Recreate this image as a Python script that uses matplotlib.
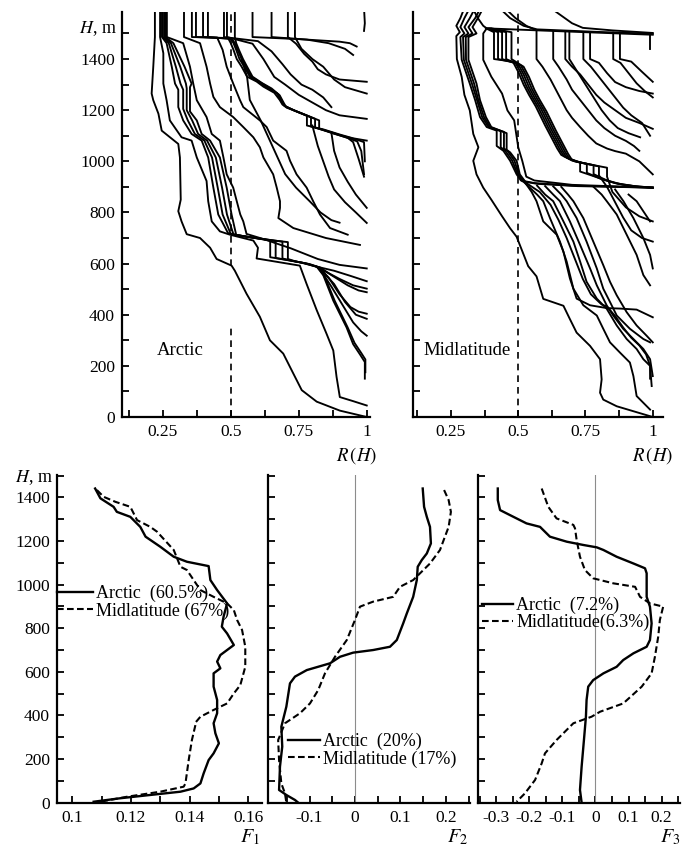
import matplotlib
matplotlib.use("Agg")
import matplotlib.pyplot as plt
import matplotlib.transforms as mtransforms
from matplotlib.ticker import FixedLocator, FixedFormatter, MultipleLocator
from matplotlib.lines import Line2D

plt.rcParams['font.family'] = 'Liberation Serif'
plt.rcParams['mathtext.fontset'] = 'stix'

# ---------------- top panels: R(H) profiles, (R, H) points ----------------
# Arctic
arc_A1 = [(0.221, 1600), (0.221, 1486), (0.215, 1370), (0.209, 1265), (0.215, 1239), (0.234, 1186),
          (0.246, 1120), (0.307, 1068), (0.313, 1015), (0.316, 850), (0.307, 805), (0.319, 765),
          (0.338, 715), (0.387, 700), (0.424, 662), (0.448, 618), (0.503, 592), (0.515, 572),
          (0.558, 482), (0.607, 392), (0.644, 300), (0.693, 248), (0.73, 170), (0.761, 105),
          (0.816, 60), (0.901, 25), (1.0, 0)]
arc_A2 = [(0.24, 1600), (0.24, 1486), (0.252, 1423), (0.252, 1304), (0.264, 1239), (0.276, 1160),
          (0.319, 1094), (0.356, 1081), (0.375, 1015), (0.411, 923), (0.417, 844), (0.43, 765),
          (0.46, 726), (0.497, 713), (0.583, 690), (0.60, 662), (0.595, 620), (0.754, 592),
          (0.779, 520), (0.816, 418), (0.852, 326), (0.877, 260), (0.889, 157), (0.901, 78),
          (0.95, 62), (1.0, 45)]
arc_B1a = [(0.247, 1600), (0.247, 1486), (0.264, 1462), (0.283, 1370), (0.295, 1304), (0.307, 1280),
           (0.307, 1212), (0.325, 1160), (0.356, 1107), (0.393, 1081), (0.417, 1015), (0.436, 897),
           (0.454, 792), (0.49, 719), (0.52, 712), (0.60, 698), (0.645, 690), (0.645, 625),
           (0.70, 615), (0.754, 605), (0.816, 588), (0.84, 555), (0.877, 455), (0.926, 350),
           (0.95, 285), (0.975, 245), (0.993, 215), (0.993, 150)]
arc_B1b = [(0.25, 1600), (0.25, 1486), (0.272, 1462), (0.298, 1370), (0.315, 1304), (0.325, 1280),
           (0.325, 1205), (0.342, 1160), (0.368, 1107), (0.403, 1081), (0.431, 1015), (0.452, 897),
           (0.47, 792), (0.50, 716), (0.54, 708), (0.62, 695), (0.665, 688), (0.665, 622),
           (0.72, 612), (0.77, 602), (0.82, 586), (0.845, 550), (0.882, 455), (0.93, 350),
           (0.955, 290), (0.98, 250), (0.995, 225), (0.995, 175)]
arc_B1c = [(0.255, 1600), (0.255, 1486), (0.28, 1462), (0.314, 1370), (0.335, 1304), (0.338, 1285),
           (0.338, 1200), (0.358, 1160), (0.38, 1107), (0.413, 1081), (0.445, 1015), (0.468, 897),
           (0.486, 792), (0.51, 714), (0.56, 705), (0.64, 693), (0.69, 686), (0.69, 620),
           (0.73, 610), (0.78, 600), (0.825, 585), (0.86, 545), (0.90, 480), (0.94, 430),
           (0.97, 412), (1.0, 404)]
arc_B1d = [(0.26, 1600), (0.26, 1486), (0.289, 1462), (0.33, 1370), (0.356, 1304), (0.35, 1290),
           (0.35, 1195), (0.375, 1160), (0.393, 1107), (0.424, 1081), (0.46, 1015), (0.485, 897),
           (0.503, 792), (0.52, 712), (0.58, 702), (0.66, 690), (0.71, 684), (0.71, 618),
           (0.74, 608), (0.79, 598), (0.83, 584), (0.87, 555), (0.93, 515), (0.97, 495), (1.0, 488)]
arc_F1 = [(0.816, 588), (0.88, 572), (0.94, 552), (1.0, 531)]
arc_F2 = [(0.83, 575), (0.87, 510), (0.91, 440), (0.95, 370), (0.98, 335), (1.0, 318)]
arc_F3 = [(0.83, 578), (0.88, 520), (0.92, 450), (0.96, 400), (1.0, 384)]
arc_F4 = [(0.82, 585), (0.90, 540), (0.95, 515), (1.0, 502)]
arc_m1 = [(0.265, 1600), (0.265, 1486), (0.325, 1462), (0.35, 1370), (0.362, 1304), (0.375, 1239),
          (0.411, 1173), (0.43, 1107), (0.46, 1081), (0.473, 1015), (0.485, 949), (0.509, 897),
          (0.522, 844), (0.535, 792), (0.546, 765), (0.558, 716), (0.62, 696), (0.72, 660),
          (0.82, 618), (0.90, 595), (1.0, 581)]
arc_m2 = [(0.328, 1600), (0.328, 1486), (0.387, 1462), (0.411, 1370), (0.424, 1304), (0.436, 1252),
          (0.46, 1212), (0.509, 1173), (0.546, 1134), (0.583, 1094), (0.607, 1055), (0.62, 1015),
          (0.656, 949), (0.669, 897), (0.681, 844), (0.681, 818), (0.675, 778), (0.73, 739),
          (0.85, 700), (0.975, 673)]
arc_m3 = [(0.357, 1600), (0.357, 1486), (0.45, 1484), (0.47, 1436), (0.485, 1370), (0.509, 1304),
          (0.534, 1239), (0.546, 1212), (0.607, 1160), (0.632, 1134), (0.656, 1081), (0.705, 1041),
          (0.718, 1002), (0.742, 949), (0.779, 897), (0.803, 844), (0.828, 792), (0.865, 739),
          (0.93, 713)]
arc_m4 = [(0.54, 1400), (0.56, 1330), (0.57, 1240), (0.61, 1160), (0.64, 1090), (0.67, 1020),
          (0.70, 950), (0.74, 897), (0.79, 844), (0.83, 800), (0.87, 770), (0.90, 760)]
arc_u1 = [(0.58, 1600), (0.58, 1486), (0.75, 1478), (0.90, 1468), (0.938, 1462), (0.963, 1449)]
arc_u2 = [(0.65, 1600), (0.65, 1486), (0.78, 1476), (0.86, 1462), (0.92, 1440), (0.95, 1416)]
arc_u3 = [(0.71, 1600), (0.71, 1486), (0.74, 1460), (0.77, 1420), (0.80, 1390), (0.82, 1360),
          (0.85, 1340), (0.90, 1320), (1.0, 1311)]
arc_u4 = [(0.736, 1600), (0.736, 1486), (0.76, 1440), (0.80, 1400), (0.84, 1370), (0.88, 1320),
          (0.92, 1290), (1.0, 1265)]
arc_u5 = [(0.475, 1600), (0.475, 1486), (0.60, 1470), (0.65, 1430), (0.69, 1380), (0.72, 1340),
          (0.76, 1300), (0.80, 1280), (0.84, 1250), (0.87, 1212)]
arc_u6 = [(0.486, 1600), (0.486, 1486), (0.58, 1460), (0.62, 1400), (0.66, 1330), (0.70, 1300),
          (0.75, 1260), (0.80, 1230), (0.85, 1200), (0.90, 1180), (1.0, 1166)]
arc_u7 = [(0.99, 1600), (0.993, 1540), (0.99, 1510)]
arc_B2a = [(0.372, 1600), (0.372, 1486), (0.49, 1482), (0.50, 1462), (0.51, 1436), (0.522, 1400),
           (0.54, 1370), (0.56, 1331), (0.595, 1312), (0.62, 1292), (0.66, 1268), (0.68, 1240),
           (0.69, 1222), (0.73, 1200), (0.78, 1178), (0.78, 1140), (0.84, 1125), (0.90, 1105),
           (0.95, 1090), (1.0, 1081)]
arc_B2b = [(0.398, 1600), (0.398, 1486), (0.50, 1480), (0.51, 1462), (0.52, 1436), (0.532, 1400),
           (0.55, 1370), (0.57, 1331), (0.605, 1310), (0.63, 1290), (0.67, 1266), (0.685, 1236),
           (0.695, 1218), (0.74, 1196), (0.795, 1172), (0.795, 1136), (0.85, 1120), (0.91, 1100),
           (0.96, 1086), (0.99, 1075), (0.993, 1000)]
arc_B2c = [(0.416, 1600), (0.416, 1486), (0.505, 1478), (0.515, 1462), (0.525, 1436), (0.54, 1400),
           (0.555, 1370), (0.575, 1331), (0.61, 1308), (0.64, 1288), (0.675, 1262), (0.69, 1232),
           (0.70, 1214), (0.75, 1192), (0.81, 1166), (0.81, 1132), (0.87, 1112), (0.92, 1095),
           (0.965, 1078), (0.98, 1040), (0.99, 950)]
arc_B2d = [(0.515, 1600), (0.515, 1486), (0.52, 1462), (0.53, 1436), (0.545, 1400), (0.56, 1370),
           (0.58, 1331), (0.615, 1306), (0.65, 1285), (0.68, 1258), (0.695, 1228), (0.705, 1210),
           (0.76, 1188), (0.825, 1160), (0.825, 1128), (0.88, 1108), (0.93, 1092), (0.95, 1075),
           (0.97, 1010), (0.99, 940)]
arc_r1 = [(0.87, 1112), (0.88, 1041), (0.90, 976), (0.93, 920), (0.96, 870), (1.0, 818)]
arc_r2 = [(0.80, 1140), (0.82, 1060), (0.84, 1000), (0.86, 940), (0.88, 890), (0.92, 840),
          (0.96, 800), (1.0, 759)]

arctic_curves = [arc_A1, arc_A2, arc_B1a, arc_B1b, arc_B1c, arc_B1d, arc_F1, arc_F2, arc_F3, arc_F4,
                 arc_m1, arc_m2, arc_m3, arc_m4, arc_u1, arc_u2, arc_u3, arc_u4, arc_u5, arc_u6,
                 arc_u7, arc_B2a, arc_B2b, arc_B2c, arc_B2d, arc_r1, arc_r2]

# Midlatitude
mid_L1 = [(0.30, 1600), (0.285, 1560), (0.27, 1530), (0.283, 1505), (0.27, 1490), (0.272, 1400),
          (0.29, 1330), (0.30, 1260), (0.32, 1199), (0.333, 1107), (0.352, 1055), (0.333, 1002),
          (0.345, 949), (0.37, 897), (0.40, 850), (0.44, 785), (0.47, 738), (0.494, 705),
          (0.537, 590), (0.568, 550), (0.593, 462), (0.668, 435), (0.686, 396), (0.692, 383),
          (0.717, 330), (0.767, 278), (0.804, 226), (0.81, 147), (0.804, 95), (0.816, 68),
          (0.866, 42), (1.0, 0)]
mid_M1a = [(0.32, 1600), (0.30, 1560), (0.285, 1525), (0.30, 1500), (0.285, 1486), (0.29, 1397),
           (0.32, 1304), (0.34, 1239), (0.358, 1173), (0.383, 1134), (0.42, 1120), (0.42, 1060),
           (0.445, 1041), (0.47, 1002), (0.494, 949), (0.51, 925), (0.56, 915), (0.70, 905), (1.0, 897)]
mid_M1b = [(0.34, 1600), (0.32, 1560), (0.30, 1525), (0.315, 1500), (0.295, 1486), (0.298, 1397),
           (0.328, 1304), (0.347, 1239), (0.366, 1173), (0.39, 1134), (0.435, 1118), (0.435, 1055),
           (0.452, 1041), (0.478, 1002), (0.498, 949), (0.515, 922), (0.57, 912), (0.72, 903), (1.0, 897)]
mid_M1c = [(0.36, 1600), (0.34, 1560), (0.315, 1525), (0.33, 1500), (0.305, 1486), (0.306, 1397),
           (0.336, 1304), (0.352, 1239), (0.373, 1173), (0.395, 1134), (0.447, 1115), (0.447, 1050),
           (0.46, 1041), (0.486, 1002), (0.502, 949), (0.52, 920), (0.57, 870), (0.593, 844),
           (0.618, 778), (0.655, 686), (0.68, 608), (0.705, 502), (0.742, 437), (0.792, 397),
           (0.816, 345), (0.841, 292), (0.878, 252), (0.915, 213), (0.928, 160), (0.94, 82), (0.99, 29)]
mid_M1d = [(0.37, 1600), (0.35, 1560), (0.33, 1525), (0.345, 1500), (0.315, 1486), (0.315, 1397),
           (0.345, 1304), (0.358, 1239), (0.38, 1173), (0.40, 1134), (0.457, 1110), (0.457, 1045),
           (0.47, 1035), (0.494, 1002), (0.506, 949), (0.53, 915), (0.58, 880), (0.62, 830),
           (0.65, 770), (0.68, 700), (0.71, 620), (0.74, 540), (0.77, 480), (0.81, 440), (0.83, 432),
           (0.86, 395), (0.89, 350), (0.92, 310), (0.95, 280), (0.975, 245), (0.99, 200), (0.99, 150)]
mid_M2a = [(0.38, 1520), (0.41, 1505), (0.41, 1400), (0.48, 1390), (0.50, 1350), (0.52, 1300),
           (0.54, 1260), (0.565, 1215), (0.60, 1140), (0.62, 1100), (0.645, 1050), (0.66, 1025),
           (0.70, 1003), (0.73, 995), (0.73, 960), (0.80, 935), (0.86, 915), (0.93, 903), (1.0, 897)]
mid_M2b = [(0.385, 1520), (0.425, 1505), (0.425, 1400), (0.49, 1385), (0.51, 1345), (0.53, 1295),
           (0.55, 1255), (0.575, 1210), (0.61, 1135), (0.63, 1095), (0.655, 1045), (0.67, 1020),
           (0.71, 1000), (0.755, 990), (0.755, 955), (0.81, 930), (0.87, 912), (0.94, 902), (1.0, 897)]
mid_M2c = [(0.39, 1520), (0.44, 1505), (0.44, 1400), (0.50, 1380), (0.52, 1340), (0.54, 1290),
           (0.56, 1250), (0.585, 1205), (0.62, 1130), (0.64, 1090), (0.665, 1040), (0.68, 1015),
           (0.72, 998), (0.78, 985), (0.78, 950), (0.83, 925), (0.89, 908), (0.95, 900), (1.0, 897)]
mid_M2d = [(0.395, 1520), (0.455, 1505), (0.455, 1400), (0.51, 1375), (0.53, 1335), (0.55, 1285),
           (0.57, 1245), (0.595, 1200), (0.63, 1125), (0.65, 1085), (0.675, 1035), (0.69, 1010),
           (0.73, 996), (0.80, 980), (0.80, 945), (0.83, 900), (0.86, 840), (0.89, 780), (0.92, 730),
           (0.96, 700), (1.0, 686)]
mid_M2e = [(0.40, 1520), (0.475, 1505), (0.475, 1400), (0.52, 1370), (0.54, 1330), (0.56, 1280),
           (0.58, 1240), (0.605, 1195), (0.64, 1120), (0.66, 1080), (0.685, 1030), (0.70, 1005),
           (0.74, 993), (0.83, 975), (0.83, 940), (0.85, 880), (0.90, 820), (0.95, 785), (1.0, 765)]
mid_MM = [(0.383, 1520), (0.37, 1500), (0.37, 1397), (0.40, 1331), (0.44, 1265), (0.46, 1199),
          (0.485, 1160), (0.50, 1055), (0.515, 1002), (0.53, 940), (0.56, 925), (0.70, 908), (1.0, 897)]
mid_b1 = [(0.33, 1600), (0.35, 1560), (0.37, 1530), (0.383, 1520), (0.6, 1511), (0.8, 1503), (1.0, 1495)]
mid_b2 = [(0.43, 1600), (0.47, 1560), (0.52, 1530), (0.57, 1516), (0.8, 1506), (1.0, 1499)]
mid_b3 = [(0.62, 1600), (0.66, 1570), (0.70, 1540), (0.74, 1522), (0.85, 1512), (1.0, 1502)]
mid_V1 = [(0.45, 1600), (0.49, 1560), (0.53, 1530), (0.568, 1512), (0.568, 1400), (0.59, 1370),
          (0.62, 1320), (0.64, 1280), (0.66, 1240), (0.68, 1200), (0.70, 1170), (0.73, 1134),
          (0.76, 1100), (0.79, 1070), (0.83, 1050), (0.86, 1040), (0.90, 1030), (0.95, 1000), (1.0, 949)]
mid_V2 = [(0.63, 1510), (0.63, 1400), (0.65, 1370), (0.68, 1320), (0.70, 1280), (0.73, 1240),
          (0.76, 1200), (0.79, 1160), (0.82, 1130), (0.86, 1100), (0.90, 1080), (0.93, 1060), (0.95, 1041)]
mid_V3 = [(0.675, 1508), (0.675, 1400), (0.70, 1370), (0.73, 1340), (0.76, 1300), (0.79, 1260),
          (0.82, 1230), (0.86, 1200), (0.90, 1170), (0.95, 1150), (1.0, 1127)]
mid_V4 = [(0.742, 1506), (0.742, 1400), (0.77, 1370), (0.80, 1330), (0.83, 1290), (0.86, 1250),
          (0.89, 1210), (0.92, 1180), (0.96, 1150), (0.99, 1100)]
mid_V5 = [(0.767, 1505), (0.767, 1400), (0.80, 1385), (0.83, 1345), (0.86, 1310), (0.90, 1290),
          (0.95, 1275), (1.0, 1265)]
mid_V6 = [(0.853, 1503), (0.853, 1400), (0.88, 1385), (0.91, 1345), (0.94, 1305), (0.97, 1275), (1.0, 1250)]
mid_V7 = [(0.878, 1503), (0.878, 1400), (0.92, 1390), (0.96, 1350), (1.0, 1311)]
mid_V8 = [(0.99, 1500), (0.99, 1440)]
mid_V9 = [(0.69, 1508), (0.69, 1400), (0.72, 1350), (0.75, 1300), (0.78, 1250), (0.81, 1200),
          (0.84, 1160), (0.87, 1130), (0.91, 1110), (0.953, 1094)]
mid_P1 = [(0.52, 925), (0.55, 880), (0.568, 844), (0.593, 765), (0.643, 713), (0.668, 647),
          (0.692, 542), (0.717, 463), (0.767, 437), (0.829, 426), (0.88, 424), (0.94, 420), (1.0, 390)]
mid_P3 = [(0.57, 905), (0.60, 870), (0.63, 844), (0.668, 765), (0.705, 686), (0.73, 608), (0.754, 529),
          (0.792, 463), (0.829, 423), (0.866, 358), (0.903, 305), (0.94, 266), (0.965, 226),
          (0.99, 200), (0.996, 121)]
mid_P4 = [(0.60, 903), (0.63, 870), (0.655, 844), (0.692, 765), (0.73, 673), (0.767, 581), (0.792, 515),
          (0.829, 436), (0.853, 397), (0.89, 345), (0.928, 305), (0.965, 266), (0.99, 226), (1.0, 160)]
mid_P5 = [(0.66, 900), (0.685, 870), (0.705, 844), (0.742, 778), (0.779, 686), (0.816, 594),
          (0.841, 529), (0.866, 476), (0.903, 410), (0.94, 358), (0.977, 318), (1.0, 292)]
mid_P6 = [(0.78, 900), (0.81, 870), (0.829, 844), (0.866, 792), (0.903, 713), (0.94, 634),
          (0.965, 555), (0.99, 515)]
mid_P7 = [(0.86, 890), (0.891, 844), (0.928, 778), (0.965, 700), (0.99, 634), (1.0, 581)]
mid_P8 = [(0.91, 870), (0.94, 844), (0.99, 765)]
mid_P9 = [(0.63, 902), (0.66, 870), (0.68, 844), (0.717, 778), (0.754, 686), (0.792, 581),
          (0.816, 502), (0.841, 450), (0.866, 397), (0.915, 345), (0.965, 305), (0.99, 292)]

mid_curves = [mid_L1, mid_M1a, mid_M1b, mid_M1c, mid_M1d, mid_M2a, mid_M2b, mid_M2c, mid_M2d,
              mid_M2e, mid_MM, mid_b1, mid_b2, mid_b3, mid_V1, mid_V2, mid_V3, mid_V4, mid_V5,
              mid_V6, mid_V7, mid_V8, mid_V9, mid_P1, mid_P3, mid_P4, mid_P5, mid_P6, mid_P7,
              mid_P8, mid_P9]

# ---------------- bottom panels: F1, F2, F3 profiles ----------------
f1_arc_H = [1441, 1396, 1357, 1334, 1311, 1265, 1220, 1174, 1128, 1105, 1085, 1021, 975, 914, 853,
            807, 776, 723, 700, 677, 647, 616, 593, 532, 471, 410, 364, 318, 272, 226, 195, 134,
            88, 65, 50, 35, 20, 4]
f1_arc = [0.1078, 0.1096, 0.1141, 0.1152, 0.1198, 0.1232, 0.125, 0.13, 0.1346, 0.1391, 0.1465,
          0.1471, 0.1494, 0.1528, 0.1516, 0.151, 0.1528, 0.1551, 0.1528, 0.1505, 0.1494, 0.1505,
          0.1482, 0.1482, 0.1494, 0.1494, 0.1482, 0.1488, 0.15, 0.1482, 0.1465, 0.1448, 0.1437,
          0.1414, 0.1369, 0.1266, 0.1164, 0.1073]
f1_mid_H = [1434, 1403, 1380, 1357, 1296, 1265, 1243, 1159, 1082, 1067, 1021, 975, 944, 914, 883,
            838, 792, 715, 623, 539, 501, 455, 425, 394, 367, 356, 287, 195, 88, 73, 50, 27, 4]
f1_mid = [0.1084, 0.1107, 0.1147, 0.1198, 0.1221, 0.1266, 0.1289, 0.1346, 0.1369, 0.1391, 0.1414,
          0.1437, 0.1482, 0.1528, 0.1551, 0.1562, 0.1579, 0.159, 0.159, 0.1573, 0.1551, 0.1528,
          0.1482, 0.1437, 0.142, 0.142, 0.1408, 0.1397, 0.1386, 0.138, 0.13, 0.1187, 0.1096]

f2_arc_H = [1441, 1357, 1311, 1265, 1189, 1143, 1113, 1082, 1021, 944, 868, 822, 746, 715, 700, 688,
            669, 639, 608, 578, 547, 440, 348, 257, 165, 58, 35, 12, 0]
f2_arc = [0.149, 0.152, 0.158, 0.165, 0.167, 0.158, 0.147, 0.138, 0.136, 0.128, 0.114, 0.106, 0.092,
          0.077, 0.040, -0.004, -0.033, -0.055, -0.106, -0.132, -0.143, -0.151, -0.162, -0.16,
          -0.165, -0.167, -0.151, -0.132, -0.125]
f2_mid_H = [1434, 1388, 1334, 1265, 1204, 1159, 1097, 1021, 990, 944, 922, 899, 838, 746, 669, 593,
            516, 455, 410, 364, 287, 195, 88, 42, 0]
f2_mid = [0.196, 0.206, 0.211, 0.206, 0.195, 0.187, 0.165, 0.128, 0.099, 0.084, 0.040, 0.011, 0.0,
          -0.018, -0.044, -0.066, -0.081, -0.099, -0.121, -0.154, -0.169, -0.167, -0.162, -0.154,
          -0.151]

f3_arc_H = [1441, 1388, 1342, 1319, 1281, 1265, 1220, 1197, 1182, 1171, 1159, 1128, 1097, 1075,
            1052, 944, 899, 822, 746, 715, 685, 654, 623, 593, 562, 532, 471, 394, 287, 165, 58, 0]
f3_arc = [-0.296, -0.296, -0.289, -0.259, -0.209, -0.168, -0.138, -0.087, -0.037, 0.004, 0.024,
          0.064, 0.115, 0.15, 0.155, 0.155, 0.165, 0.17, 0.165, 0.155, 0.115, 0.084, 0.064, 0.024,
          -0.007, -0.022, -0.027, -0.029, -0.035, -0.042, -0.047, -0.042]
f3_mid_H = [1441, 1357, 1304, 1274, 1258, 1204, 1128, 1067, 1029, 1006, 990, 944, 914, 899, 838,
            761, 669, 593, 532, 455, 417, 394, 364, 287, 226, 180, 104, 42, 4]
f3_mid = [-0.163, -0.143, -0.118, -0.067, -0.062, -0.057, -0.047, -0.032, -0.007, 0.054, 0.12,
          0.135, 0.165, 0.205, 0.195, 0.19, 0.18, 0.17, 0.14, 0.084, 0.014, -0.012, -0.067, -0.118,
          -0.153, -0.163, -0.183, -0.214, -0.239]

legend_f1 = ['Arctic  (60.5%)', 'Midlatitude (67%)']
legend_f2 = ['Arctic  (20%)', 'Midlatitude (17%)']
legend_f3 = ['Arctic  (7.2%)', 'Midlatitude(6.3%)']

W, H = 682, 852
fig = plt.figure(figsize=(W / 100, H / 100), dpi=100)


def box(x0, x1, y_top, y_bot):
    return [x0 / W, 1 - y_bot / H, (x1 - x0) / W, (y_bot - y_top) / H]


ax_a = fig.add_axes(box(122, 370, 12, 417))
ax_m = fig.add_axes(box(413, 663, 12, 417))
ax1 = fig.add_axes(box(57, 262, 475, 802.6))
ax2 = fig.add_axes(box(267.7, 470, 475, 802.6))
ax3 = fig.add_axes(box(478.3, 680, 475, 802.6))

dash = (0, (3.2, 1.6))


def style(ax):
    for s in ['top', 'right']:
        ax.spines[s].set_visible(False)
    for s in ['left', 'bottom']:
        ax.spines[s].set_linewidth(1.6)
    ax.tick_params(which='both', direction='in', length=5, width=1.3, labelsize=12.5, pad=5)


# top panels
for ax, curves, xl in [(ax_a, arctic_curves, (0.1, 1.012)), (ax_m, mid_curves, (0.109, 1.038))]:
    for c in curves:
        r, h = zip(*c)
        ax.plot(r, h, color='black', lw=1.35, solid_joinstyle='round')
    ax.set_xlim(*xl)
    ax.set_ylim(0, 1584)
    style(ax)
    ax.xaxis.set_major_locator(FixedLocator([0.25, 0.5, 0.75, 1.0]))
    ax.xaxis.set_major_formatter(FixedFormatter(['0.25', '0.5', '0.75', '1']))
    ax.xaxis.set_minor_locator(FixedLocator([0.125, 0.375, 0.625, 0.875]))
    ax.yaxis.set_major_locator(MultipleLocator(200))
    ax.yaxis.set_minor_locator(MultipleLocator(100))
    ax.text(1.04 if ax is ax_m else 1.028, -0.095, r'$R\,(H)$', transform=ax.transAxes,
            ha='right', va='center', fontsize=13.5)

ax_a.plot([0.5, 0.5], [590, 1600], color='black', lw=1.2, ls=(0, (4, 3)))
ax_a.plot([0.5, 0.5], [0, 360], color='black', lw=1.2, ls=(0, (4, 3)))
ax_m.plot([0.5, 0.5], [0, 1600], color='black', lw=1.2, ls=(0, (4, 3)))
ax_a.text(0.229, 262, 'Arctic', fontsize=13.5, va='center', ha='left')
ax_m.text(0.146, 262, 'Midlatitude', fontsize=13.5, va='center', ha='left')
ax_m.tick_params(labelleft=False)
ax_a.text(-0.02, 1521, '$H$, m', transform=mtransforms.blended_transform_factory(ax_a.transAxes, ax_a.transData),
          ha='right', va='center', fontsize=13)

# bottom panels
panels = [
    (ax1, f1_arc, f1_arc_H, f1_mid, f1_mid_H, (0.0948, 0.1647), [0.1, 0.12, 0.14, 0.16],
     ['0.1', '0.12', '0.14', '0.16'], 0.01, legend_f1, (0.0, 0.664), 2.0, '$F_1$'),
    (ax2, f2_arc, f2_arc_H, f2_mid, f2_mid_H, (-0.192, 0.253), [-0.1, 0.0, 0.1, 0.2],
     ['-0.1', '0', '0.1', '0.2'], 0.05, legend_f2, (0.1, 0.212), 1.8, '$F_2$'),
    (ax3, f3_arc, f3_arc_H, f3_mid, f3_mid_H, (-0.355, 0.256), [-0.3, -0.2, -0.1, 0.0, 0.1, 0.2],
     ['-0.3', '-0.2', '-0.1', '0', '0.1', '0.2'], 0.05, legend_f3, (0.017, 0.628), 1.75, '$F_3$'),
]
for ax, fa, ha, fm, hm, xl, ticks, tlabels, minor, leg, anchor, hl, flabel in panels:
    if ax is not ax1:
        ax.axvline(0, color='0.55', lw=0.8)
    ax.plot(fa, ha, color='black', lw=1.7)
    ax.plot(fm, hm, color='black', lw=1.5, ls=dash)
    ax.set_xlim(*xl)
    ax.set_ylim(0, 1503)
    style(ax)
    ax.xaxis.set_major_locator(FixedLocator(ticks))
    ax.xaxis.set_major_formatter(FixedFormatter(tlabels))
    ax.xaxis.set_minor_locator(MultipleLocator(minor))
    ax.yaxis.set_major_locator(MultipleLocator(200))
    ax.yaxis.set_minor_locator(MultipleLocator(100))
    if ax is not ax1:
        ax.tick_params(labelleft=False)
    handles = [Line2D([], [], color='black', lw=1.7),
               Line2D([], [], color='black', lw=1.5, ls=dash)]
    ax.legend(handles, leg, loc='upper left', bbox_to_anchor=anchor, frameon=False,
              fontsize=13, handlelength=hl, handletextpad=0.15, borderpad=0,
              borderaxespad=0, labelspacing=0.0)
    ax.text(0.99 if ax is not ax3 else 1.0, -0.105, flabel, transform=ax.transAxes,
            ha='right', va='center', fontsize=14.5)

ax1.text(-0.02, 1489, '$H$, m', transform=mtransforms.blended_transform_factory(ax1.transAxes, ax1.transData),
         ha='right', va='center', fontsize=13)

# nudge the "0" labels up a little, as in the original
for ax, dy in [(ax_a, 4), (ax1, 6)]:
    lab = ax.yaxis.get_major_ticks()[0].label1
    lab.set_transform(lab.get_transform() + mtransforms.ScaledTranslation(0, dy / 72, fig.dpi_scale_trans))

fig.savefig('out.png', dpi=100)
